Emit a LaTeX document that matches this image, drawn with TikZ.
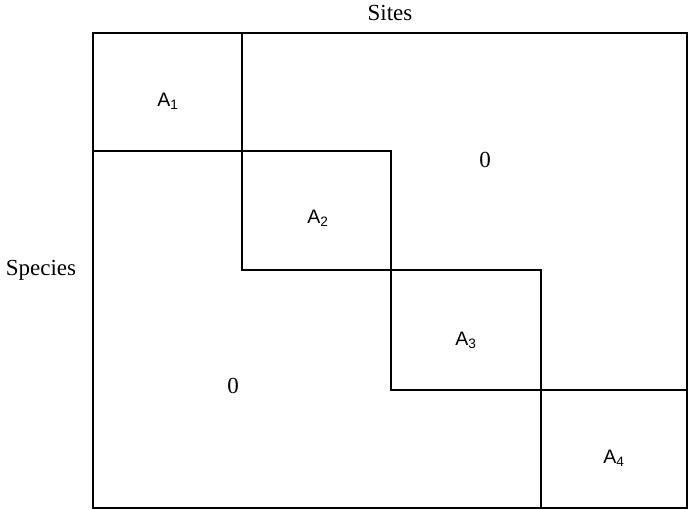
\documentclass[tikz,border=0pt]{standalone}
\usepackage{fontspec}
\setmainfont{Liberation Serif}
\newfontfamily\blockfont{Liberation Sans}
\begin{document}
\begin{tikzpicture}[x=1pt,y=-1pt,
  grid/.style={line width=1.4pt,line cap=rect},
  lbl/.style={font=\fontsize{23}{27}\selectfont,inner sep=0pt},
  blk/.style={font=\blockfont\fontsize{19.5}{23}\selectfont,inner sep=0pt}]
\useasboundingbox (0,0) rectangle (689,510);
% outer matrix frame
\coordinate (tl) at (93,33);
\coordinate (br) at (687,508);
\draw[grid] (tl) rectangle (br);
% staircase of diagonal blocks
\draw[grid] (242,33) -- (242,270) -- (541,270) -- (541,508);
\draw[grid] (93,151) -- (391,151) -- (391,390) -- (687,390);
% labels
\node[lbl] (sites) at (390,13) {Sites};
\node[lbl] (species) at (41,270) {Species};
\node[blk] (a1) at (168,101) {A\textsubscript{1}};
\node[blk] (a2) at (318,218) {A\textsubscript{2}};
\node[blk] (a3) at (466,340) {A\textsubscript{3}};
\node[blk] (a4) at (614,458) {A\textsubscript{4}};
\node[lbl] (z1) at (485,160) {0};
\node[lbl] (z2) at (233,386) {0};
\end{tikzpicture}
\end{document}
